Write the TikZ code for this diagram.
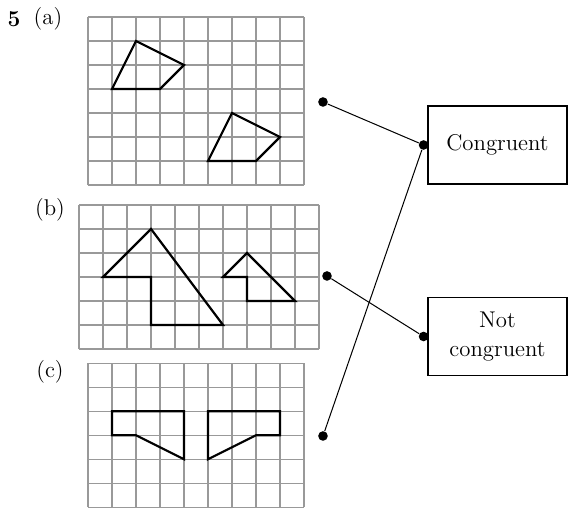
\documentclass[tikz,border=0pt]{standalone}
\usetikzlibrary{positioning}
\definecolor{gridgray}{HTML}{999999}

\begin{document}
\begin{tikzpicture}[x=0.5cm, y=0.5cm, font=\fontsize{13.5}{17}\selectfont,
    cell/.style={draw=gridgray, line width=0.7pt, step=0.5cm},
    figline/.style={draw=black, line width=1.3pt, line join=miter},
    dot/.style={circle, fill=black, inner sep=0pt, minimum size=2mm},
    answer/.style={draw, line width=0.7pt, minimum width=2.896cm, minimum height=1.625cm, align=center},
    link/.style={draw=black, line width=0.6pt}]
    \useasboundingbox (0,0) rectangle (23.667,21.167);

    % part labels
    \node[font=\fontsize{13.5}{17}\selectfont\bfseries] (qnum) at (0.583,20.375) {5};
    \node (lblA) at (2.0,20.375) {(a)};
    \node (lblB) at (2.083,12.417) {(b)};
    \node (lblC) at (2.083,5.667) {(c)};

    % (a)
    \begin{scope}[shift={(3.667,13.458)}]
      \draw[cell] (0,0) grid (9,7);
      \draw[figline] (2,6) -- (4,5) -- (3,4) -- (1,4) -- cycle;
      \draw[figline] (6,3) -- (8,2) -- (7,1) -- (5,1) -- cycle;
    \end{scope}

    % (b)
    \begin{scope}[shift={(3.292,6.625)}]
      \draw[cell] (0,0) grid (10,6);
      \draw[figline] (3,5) -- (1,3) -- (3,3) -- (3,1) -- (6,1) -- cycle;
      \draw[figline] (7,4) -- (6,3) -- (7,3) -- (7,2) -- (9,2) -- cycle;
    \end{scope}

    % (c)
    \begin{scope}[shift={(3.667,0.03)}]
      \draw[cell] (0,0) grid (9,6);
      \draw[figline] (1,4) -- (4,4) -- (4,2) -- (2,3) -- (1,3) -- cycle;
      \draw[figline] (5,4) -- (8,4) -- (8,3) -- (7,3) -- (5,2) -- cycle;
    \end{scope}

    % answer boxes
    \node[answer] (cong) at (20.729,15.125) {Congruent};
    \node[answer] (notcong) at (20.729,7.146) {Not\\congruent};

    % dots
    \node[dot] (dA) at (13.458,16.917) {};
    \node[dot] (dB) at (13.625,9.667) {};
    \node[dot] (dC) at (13.458,3.0) {};
    \node[dot] (dCong) at ([xshift=-0.8mm]cong.west) {};
    \node[dot] (dNot) at ([xshift=-0.8mm]notcong.west) {};

    % matching lines
    \draw[link] (dA) -- (dCong);
    \draw[link] (dC) -- (dCong);
    \draw[link] (dB) -- (dNot);
\end{tikzpicture}
\end{document}
